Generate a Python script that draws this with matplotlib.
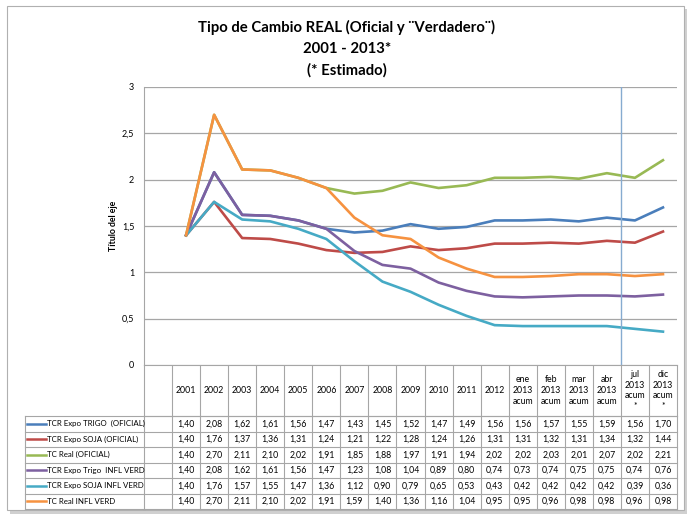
import matplotlib
matplotlib.use("Agg")
import matplotlib.pyplot as plt
from matplotlib.transforms import blended_transform_factory
from matplotlib.patches import Rectangle

plt.rcParams["font.family"] = ["Lato", "DejaVu Sans"]

categories = ["", "2001", "2002", "2003", "2004", "2005", "2006", "2007", "2008",
              "2009", "2010", "2011", "2012",
              "ene\n2013\nacum", "feb\n2013\nacum", "mar\n2013\nacum",
              "abr\n2013\nacum", "jul\n2013\nacum\n*", "dic\n2013\nacum\n*"]

series_names = ["TCR Expo TRIGO  (OFICIAL)", "TCR Expo SOJA (OFICIAL)",
                "TC Real (OFICIAL)", "TCR Expo Trigo  INFL VERD",
                "TCR Expo SOJA INFL VERD", "TC Real INFL VERD"]

trigo_oficial = [1.40, 2.08, 1.62, 1.61, 1.56, 1.47, 1.43, 1.45, 1.52, 1.47, 1.49,
                 1.56, 1.56, 1.57, 1.55, 1.59, 1.56, 1.70]
soja_oficial = [1.40, 1.76, 1.37, 1.36, 1.31, 1.24, 1.21, 1.22, 1.28, 1.24, 1.26,
                1.31, 1.31, 1.32, 1.31, 1.34, 1.32, 1.44]
real_oficial = [1.40, 2.70, 2.11, 2.10, 2.02, 1.91, 1.85, 1.88, 1.97, 1.91, 1.94,
                2.02, 2.02, 2.03, 2.01, 2.07, 2.02, 2.21]
trigo_infl = [1.40, 2.08, 1.62, 1.61, 1.56, 1.47, 1.23, 1.08, 1.04, 0.89, 0.80,
              0.74, 0.73, 0.74, 0.75, 0.75, 0.74, 0.76]
soja_infl = [1.40, 1.76, 1.57, 1.55, 1.47, 1.36, 1.12, 0.90, 0.79, 0.65, 0.53,
             0.43, 0.42, 0.42, 0.42, 0.42, 0.39, 0.36]
real_infl = [1.40, 2.70, 2.11, 2.10, 2.02, 1.91, 1.59, 1.40, 1.36, 1.16, 1.04,
             0.95, 0.95, 0.96, 0.98, 0.98, 0.96, 0.98]

series = [trigo_oficial, soja_oficial, real_oficial, trigo_infl, soja_infl, real_infl]
colors = ["#4a7ebb", "#be4b48", "#98b954", "#7d60a0", "#46aac5", "#f69240"]

W, H = 695, 517
fig = plt.figure(figsize=(W / 100, H / 100), dpi=100)

# overlay in pixel coordinates for border, title and table
ov = fig.add_axes([0, 0, 1, 1])
ov.set_xlim(0, W)
ov.set_ylim(H, 0)
ov.axis("off")

ov.add_patch(Rectangle((10, 9), 677, 505, facecolor="#d0d0d0", edgecolor="none"))
ov.add_patch(Rectangle((7, 6), 677, 504, facecolor="white", edgecolor="#b0b0b0", lw=0.8))

title_fs = 10.7
ov.text(347, 27, "Tipo de Cambio REAL (Oficial y ¨Verdadero¨)", ha="center", va="center",
        fontsize=title_fs, fontweight="bold")
ov.text(347, 49, "2001 - 2013*", ha="center", va="center", fontsize=title_fs, fontweight="bold")
ov.text(347, 70, "(* Estimado)", ha="center", va="center", fontsize=title_fs, fontweight="bold")

plot_l, plot_r, plot_t, plot_b = 144, 677, 87, 365
ax = fig.add_axes([plot_l / W, 1 - plot_b / H, (plot_r - plot_l) / W, (plot_b - plot_t) / H])
ax.set_xlim(-0.5, len(categories) - 0.5)
ax.set_ylim(0, 3)
ax.set_yticks([0, 0.5, 1, 1.5, 2, 2.5, 3])
ax.set_yticklabels(["0", "0,5", "1", "1,5", "2", "2,5", "3"], fontsize=6.5)
ax.tick_params(axis="y", length=0, pad=7)
ax.set_xticks([])
ax.grid(axis="y", color="#a6a6a6", lw=0.9)
ax.set_axisbelow(True)
for s in ["top", "right", "bottom"]:
    ax.spines[s].set_visible(False)
ax.spines["left"].set_color("#a6a6a6")
ax.set_ylabel("Título del eje", fontsize=6.3, fontweight="bold", labelpad=3)

xs = list(range(1, len(categories)))
for vals, c in zip(series, colors):
    ax.plot(xs, vals, color=c, lw=1.9, solid_joinstyle="round")

ax.axvline(16.5, color="#86abd0", lw=1)

# data table below the plot
tr = blended_transform_factory(ax.transData, ov.transData)
grid_c = "#a6a6a6"
header_b = 416
row_h = 15.5
n_rows = len(series)
table_b = header_b + row_h * n_rows
legend_l = 25

ax_line = dict(transform=tr, color=grid_c, lw=0.8, clip_on=False)
for i in range(len(categories) + 1):
    xb = i - 0.5
    ov.plot([xb, xb], [plot_b, table_b], **ax_line)
ov.plot([-0.5, len(categories) - 0.5], [plot_b, plot_b], **ax_line)
ov.plot([-0.5, len(categories) - 0.5], [header_b, header_b], **ax_line)

for i, lab in enumerate(categories):
    ov.text(i, (plot_b + header_b) / 2, lab, transform=tr, ha="center", va="center",
            fontsize=6.3, linespacing=1.25)

for r in range(n_rows + 1):
    y = header_b + r * row_h
    ov.plot([legend_l, plot_l], [y, y], color=grid_c, lw=0.8)
    ov.plot([-0.5, len(categories) - 0.5], [y, y], **ax_line)
ov.plot([legend_l, legend_l], [header_b, table_b], color=grid_c, lw=0.8)

for r, (name, vals, c) in enumerate(zip(series_names, series, colors)):
    yc = header_b + (r + 0.5) * row_h
    ov.plot([27, 46], [yc, yc], color=c, lw=1.8)
    ov.text(47, yc, name, ha="left", va="center", fontsize=5.7)
    for x, v in zip(xs, vals):
        ov.text(x, yc, f"{v:.2f}".replace(".", ","), transform=tr, ha="center",
                va="center", fontsize=6.3)

fig.savefig("out.png", dpi=100)
